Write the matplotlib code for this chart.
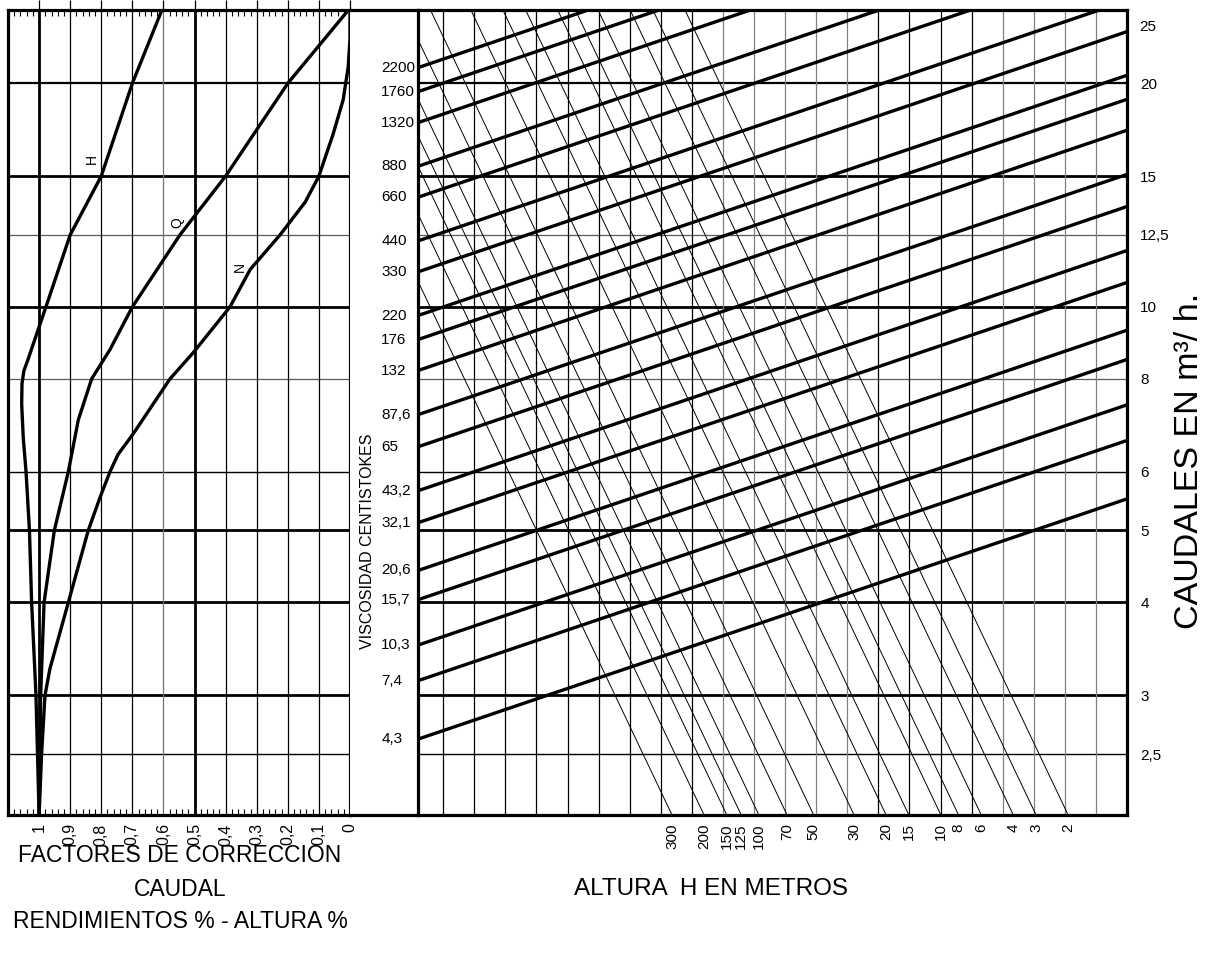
"""
Ábaco de corrección por viscosidad: factores H, Q, N y caudal / altura
"""
import numpy as np
import matplotlib
matplotlib.use('Agg')
import matplotlib.pyplot as plt
from matplotlib.ticker import NullLocator

plt.rcParams['font.family'] = ['Liberation Sans', 'DejaVu Sans']

# Escala de caudales (m3/h), eje vertical común
caudales = [25, 20, 15, 12.5, 10, 8, 6, 5, 4, 3, 2.5]
caudales_txt = ['25', '20', '15', '12,5', '10', '8', '6', '5', '4', '3', '2,5']

# Factores de corrección (eje inferior izquierdo)
factores = [1.0, 0.9, 0.8, 0.7, 0.6, 0.5, 0.4, 0.3, 0.2, 0.1, 0.0]
factores_txt = ['1', '0,9', '0,8', '0,7', '0,6', '0,5', '0,4', '0,3', '0,2', '0,1', '0']

# Viscosidades (centistokes) de las rectas gruesas
viscosidad = [2200, 1760, 1320, 880, 660, 440, 330, 220, 176, 132,
              87.6, 65, 43.2, 32.1, 20.6, 15.7, 10.3, 7.4, 4.3]
viscosidad_txt = ['2200', '1760', '1320', '880', '660', '440', '330', '220', '176', '132',
                  '87,6', '65', '43,2', '32,1', '20,6', '15,7', '10,3', '7,4', '4,3']

# Alturas H (m) de las rectas finas
altura = [300, 200, 150, 125, 100, 70, 50, 30, 20, 15, 10, 8, 6, 4, 3, 2]

# Curvas de corrección: factor frente a caudal
curva_h_f = [0.605, 0.70, 0.80, 0.90, 0.978, 1.008, 1.035, 1.049, 1.055, 1.056, 1.051, 1.042, 1.031, 1.024, 1.010, 1.0]
curva_h_q = [25.1, 20, 15, 12.5, 10, 9.19, 8.51, 8.2, 7.88, 7.40, 6.67, 6, 5, 4, 3, 2.07]

curva_q_f = [0.005, 0.2, 0.4, 0.547, 0.70, 0.772, 0.831, 0.874, 0.906, 0.951, 0.984, 0.995, 1.0]
curva_q_q = [25.1, 20, 15, 12.5, 10, 8.76, 8, 7.04, 6, 5, 4, 3, 2.07]

curva_n_f = [0.0, 0.0, 0.006, 0.022, 0.054, 0.1, 0.144, 0.225, 0.321, 0.386, 0.504, 0.579,
             0.698, 0.746, 0.772, 0.804, 0.842, 0.906, 0.965, 0.981, 0.992, 1.0]
curva_n_q = [25.1, 22.9, 21.0, 19.0, 17.1, 15, 13.84, 12.5, 11.23, 10, 8.68, 8,
             6.74, 6.33, 6, 5.54, 5, 4, 3.26, 3, 2.5, 2.07]

Q_MIN, Q_MAX = 2.07, 25.1
J_IZQ, J_DER = 13.19, 36.0      # bordes del ábaco en unidades de cuadrícula
PEND_V = 0.01418                # décadas de caudal por unidad (rectas de viscosidad)
PEND_H = 0.0879                 # décadas de caudal por unidad (rectas de altura)


def visc_a_caudal(v):
    return 10 ** (0.2067 + 0.3337 * np.log10(v))


def altura_a_x(h):
    return 35.869 - 5.856 * np.log10(h)


W, H = 1210, 957
fig = plt.figure(figsize=(W / 100, H / 100), dpi=100)


def caja(x0, x1):
    return [x0 / W, 1 - 815 / H, (x1 - x0) / W, (815 - 10) / H]


ax_f = fig.add_axes(caja(8, 350))
ax_v = fig.add_axes(caja(350, 418))
ax_n = fig.add_axes(caja(418, 1127))

for ax in (ax_f, ax_v, ax_n):
    ax.set_yscale('log')
    ax.set_ylim(Q_MIN, Q_MAX)
    ax.yaxis.set_minor_locator(NullLocator())
    for s in ax.spines.values():
        s.set_linewidth(2.3)

# estilo de las horizontales (ancho, color) por caudal
estilo_h = {20: (1.6, 'k'), 15: (2.0, 'k'), 12.5: (0.9, '0.35'), 10: (2.0, 'k'),
            8: (0.9, '0.35'), 6: (1.0, 'k'), 5: (2.0, 'k'), 4: (2.0, 'k'),
            3: (2.0, 'k'), 2.5: (1.0, 'k')}

# ---- panel izquierdo: factores de corrección ----
ax_f.set_xlim(1.1, 0)
for q in caudales[1:]:
    lw, c = estilo_h[q]
    ax_f.axhline(q, color=c, lw=lw, zorder=1)
for f in factores[:-1]:
    if f in (1.0, 0.5):
        ax_f.axvline(f, color='k', lw=2.0, zorder=1)
    else:
        ax_f.axvline(f, color='0.45' if f == 0.6 else 'k', lw=0.9, zorder=1)

ax_f.plot(curva_h_f, curva_h_q, color='k', lw=2.4, zorder=3)
ax_f.plot(curva_q_f, curva_q_q, color='k', lw=2.4, zorder=3)
ax_f.plot(curva_n_f, curva_n_q, color='k', lw=2.4, zorder=3)
ax_f.text(0.83, 15.8, 'H', rotation=90, ha='center', va='center', fontsize=10)
ax_f.text(0.556, 13.0, 'Q', rotation=90, ha='center', va='center', fontsize=10)
ax_f.text(0.354, 11.3, 'N', rotation=90, ha='center', va='center', fontsize=10)

ax_f.set_yticks([])
ax_f.set_xticks(factores)
ax_f.set_xticklabels(factores_txt, rotation=90)
menores = [round(x, 2) for x in np.arange(0.02, 1.1, 0.02) if round(x * 50) % 5 != 0]
ax_f.set_xticks(menores, minor=True)
ax_f.tick_params(axis='x', which='major', top=True, bottom=False, direction='out',
                 length=7, width=0.9, labelsize=11.5, pad=-1)
ax_f.tick_params(axis='x', which='minor', top=True, bottom=True, direction='in',
                 length=4, width=0.8)

# ---- franja central: escala de viscosidad ----
ax_v.set_xticks([])
ax_v.set_yticks([])
ax_v.spines['left'].set_visible(False)
ax_v.spines['right'].set_visible(False)

# ---- panel derecho: ábaco de caudal / altura ----
ax_n.set_xlim(J_IZQ, J_DER)
for q in caudales[1:]:
    lw, c = estilo_h[q]
    ax_n.axhline(q, color=c, lw=lw, zorder=1)
for j in range(14, 36):
    negra = j <= 22 or 28 <= j <= 31
    ax_n.axvline(j, color='k' if negra else '0.5', lw=0.9, zorder=1)

for h in altura:
    xb = altura_a_x(h)
    ax_n.plot([xb, xb - 20], [Q_MIN, Q_MIN * 10 ** (PEND_H * 20)], color='k', lw=0.7, zorder=2)

for v, t in zip(viscosidad, viscosidad_txt):
    q0 = visc_a_caudal(v)
    q1 = q0 * 10 ** (PEND_V * (J_DER - J_IZQ))
    ax_n.plot([J_IZQ, J_DER], [q0, q1], color='k', lw=2.4, zorder=3, solid_capstyle='butt')
    ax_n.annotate(t, xy=(0, q0), xycoords=('axes fraction', 'data'),
                  xytext=(-26.5, 0), textcoords='offset points',
                  ha='left', va='center', fontsize=11)

ax_n.set_xticks([altura_a_x(h) for h in altura])
ax_n.set_xticklabels([str(h) for h in altura], rotation=90)
ax_n.tick_params(axis='x', length=0, labelsize=11, pad=6)
ax_n.set_yticks(caudales[1:])
ax_n.set_yticklabels(caudales_txt[1:])
ax_n.yaxis.set_minor_locator(NullLocator())
ax_n.tick_params(axis='y', left=False, right=False, labelleft=False, labelright=True,
                 labelsize=11, pad=6)
# el 25 queda junto al borde superior: se rotula algo más abajo
ax_n.annotate(caudales_txt[0], xy=(1, caudales[0]), xycoords=('axes fraction', 'data'),
              xytext=(9, -11), textcoords='offset points',
              ha='left', va='center', fontsize=11)

# ---- rótulos ----
fig.text(367 / W, 1 - 541 / H, 'VISCOSIDAD CENTISTOKES', rotation=90,
         ha='center', va='center', fontsize=11.5)
fig.text(1190 / W, 1 - 461 / H, 'CAUDALES EN m³/ h.', rotation=90,
         ha='center', va='center', fontsize=24.5)
fig.text(180 / W, 1 - 856 / H, 'FACTORES DE CORRECCION', ha='center', va='center', fontsize=16.5)
fig.text(180 / W, 1 - 889 / H, 'CAUDAL', ha='center', va='center', fontsize=16.5)
fig.text(180 / W, 1 - 921 / H, 'RENDIMIENTOS % - ALTURA %', ha='center', va='center', fontsize=16.5)
fig.text(711 / W, 1 - 889 / H, 'ALTURA  H EN METROS', ha='center', va='center', fontsize=17.5)

fig.savefig('out.png', dpi=100)
